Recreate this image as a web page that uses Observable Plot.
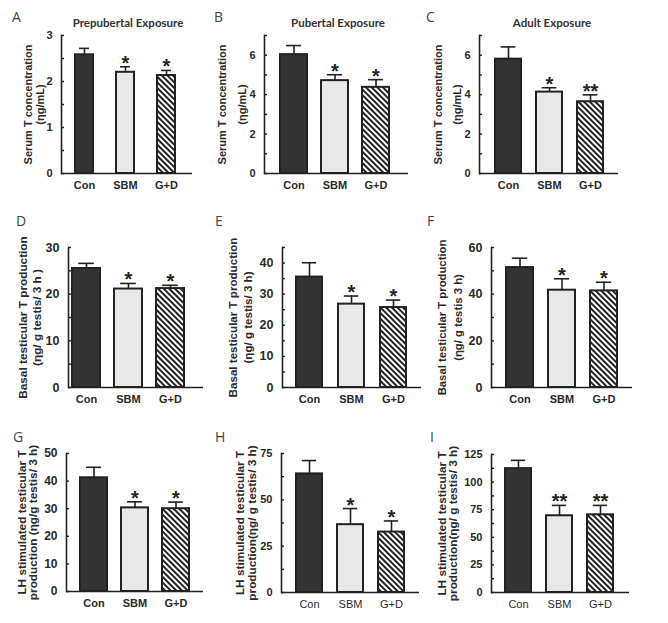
<!DOCTYPE html>
<html><head><meta charset="utf-8">
<script src="https://cdn.jsdelivr.net/npm/d3@7"></script>
<script src="https://cdn.jsdelivr.net/npm/@observablehq/plot@0.6"></script>
<style>
body{margin:0;background:#fff;}
#fig{position:relative;width:668px;height:623px;overflow:hidden;background:#fff;}
#fig svg.panel{position:absolute;}
#overlay{position:absolute;left:0;top:0;pointer-events:none;}
</style></head><body>
<svg width="0" height="0" style="position:absolute">
<defs>
<pattern id="dots" patternUnits="userSpaceOnUse" width="2" height="2"><rect width="2" height="2" fill="#fff"/><rect x="0.5" y="0.5" width="1" height="1" fill="#a4a4a4"/></pattern>
<pattern id="hatch" patternUnits="userSpaceOnUse" width="4" height="4" patternTransform="rotate(-45)"><rect width="4" height="4" fill="#fff"/><rect width="2" height="4" fill="#222"/></pattern>
</defs></svg>
<div id="fig"></div>
<script>
// ---- data ----
const groups = ["Con", "SBM", "G+D"];

const meansA = [2.58, 2.20, 2.13];
const errsA  = [0.14, 0.12, 0.11];
const sigA   = ["", "*", "*"];
const ticksA = [0, 1, 2, 3];
const minorA = [0.5, 1.5, 2.5];

const meansB = [6.03, 4.71, 4.37];
const errsB  = [0.46, 0.30, 0.39];
const sigB   = ["", "*", "*"];
const ticksB = [0, 2, 4, 6];
const minorB = [1, 3, 5, 7];

const meansC = [5.80, 4.13, 3.64];
const errsC  = [0.62, 0.22, 0.35];
const sigC   = ["", "*", "**"];
const ticksC = [0, 2, 4, 6];
const minorC = [1, 3, 5, 7];

const meansD = [25.5, 21.1, 21.2];
const errsD  = [1.1, 1.2, 0.7];
const sigD   = ["", "*", "*"];
const ticksD = [0, 10, 20, 30];
const minorD = [5, 15, 25];

const meansE = [35.5, 26.8, 25.7];
const errsE  = [4.6, 2.6, 2.4];
const sigE   = ["", "*", "*"];
const ticksE = [0, 10, 20, 30, 40];
const minorE = [5, 15, 25, 35, 45];

const meansF = [51.4, 41.7, 41.4];
const errsF  = [4.0, 4.9, 3.7];
const sigF   = ["", "*", "*"];
const ticksF = [0, 20, 40, 60];
const minorF = [10, 30, 50];

const meansG = [41.2, 30.3, 30.0];
const errsG  = [3.8, 2.2, 2.4];
const sigG   = ["", "*", "*"];
const ticksG = [0, 10, 20, 30, 40, 50];
const minorG = [];

const meansH = [64.0, 36.6, 32.6];
const errsH  = [7.2, 8.7, 6.0];
const sigH   = ["", "*", "*"];
const ticksH = [0, 25, 50, 75];
const minorH = [12.5, 37.5, 62.5];

const meansI = [112.2, 69.5, 70.4];
const errsI  = [7.5, 9.4, 8.5];
const sigI   = ["", "**", "**"];
const ticksI = [0, 25, 50, 75, 100, 125];
const minorI = [12.5, 37.5, 62.5, 87.5, 112.5];

const titles = ["Prepubertal Exposure", "Pubertal Exposure", "Adult Exposure"];
const labelSerum = ["Serum T concentration", "(\u03b7g/mL)"];
const labelD = ["Basal testicular T production", "(\u03b7g/ g testis/ 3 h )"];
const labelE = ["Basal testicular T production", "(\u03b7g/ g testis/ 3 h)"];
const labelF = ["Basal testicular T production", "(\u03b7g/ g testis 3 h)"];
const labelG = ["LH stimulated testicular T", "production (\u03b7g/g testis/ 3 h)"];
const labelH = ["LH stimulated testicular T", "production(\u03b7g/ g testis/ 3 h)"];
const labelI = ["LH stimulated testicular T", "production(\u03b7g/ g testis/ 3 h)"];

const panels = [
  {id:"A", means:meansA, errs:errsA, sig:sigA, yMax:3,   ticks:ticksA, minor:minorA, label:labelSerum},
  {id:"B", means:meansB, errs:errsB, sig:sigB, yMax:7,   ticks:ticksB, minor:minorB, label:labelSerum},
  {id:"C", means:meansC, errs:errsC, sig:sigC, yMax:7,   ticks:ticksC, minor:minorC, label:labelSerum},
  {id:"D", means:meansD, errs:errsD, sig:sigD, yMax:30,  ticks:ticksD, minor:minorD, label:labelD},
  {id:"E", means:meansE, errs:errsE, sig:sigE, yMax:45,  ticks:ticksE, minor:minorE, label:labelE},
  {id:"F", means:meansF, errs:errsF, sig:sigF, yMax:60,  ticks:ticksF, minor:minorF, label:labelF},
  {id:"G", means:meansG, errs:errsG, sig:sigG, yMax:50,  ticks:ticksG, minor:minorG, label:labelG},
  {id:"H", means:meansH, errs:errsH, sig:sigH, yMax:75,  ticks:ticksH, minor:minorH, label:labelH},
  {id:"I", means:meansI, errs:errsI, sig:sigI, yMax:125, ticks:ticksI, minor:minorI, label:labelI}
];

// ---- layout / style ----
const colX = [0, 215, 430], colW = [215, 215, 238];
const rowTop = [0, 200, 410], rowH = [200, 210, 213];
const groupFills = ["#333333", "url(#dots)", "url(#hatch)"];
const ink = "#222";
const layout = {
  A:{col:0,row:0,axis:61, end:192,top:35, bottom:173,l1:28, l2:40, pi:0.557,po:0.317,ir:2.5,tickFs:11,  labelFs:11, xw:"bold"},
  B:{col:1,row:0,axis:264,end:408,top:35, bottom:173,l1:222,l2:242,pi:0.35, po:0.361,ir:4,  tickFs:11,  labelFs:11, xw:"bold"},
  C:{col:2,row:0,axis:479,end:618,top:35, bottom:173,l1:438,l2:457,pi:0.377,po:0.379,ir:0,  tickFs:11,  labelFs:11, xw:"bold"},
  D:{col:0,row:1,axis:68, end:203,top:247,bottom:387,l1:23, l2:37, pi:0.337,po:0.083,ir:15, tickFs:12.5,labelFs:11.8,xw:"bold"},
  E:{col:1,row:1,axis:282,end:421,top:247,bottom:387,l1:233,l2:248,pi:0.37, po:0.339,ir:0,  tickFs:12.5,labelFs:11.6,xw:"bold"},
  F:{col:2,row:1,axis:491,end:632,top:247,bottom:387,l1:442,l2:458,pi:0.369,po:0.358,ir:0,  tickFs:12.5,labelFs:11.3,xw:"bold"},
  G:{col:0,row:2,axis:66, end:203,top:453,bottom:591,l1:22, l2:33, pi:0.332,po:0.322,ir:0,  tickFs:12,  labelFs:11.8,xw:"bold"},
  H:{col:1,row:2,axis:281,end:419,top:453,bottom:592,l1:240,l2:252,pi:0.354,po:0.35, ir:0,  tickFs:11,  labelFs:11.8,xw:"normal"},
  I:{col:2,row:2,axis:491,end:629,top:454,bottom:592,l1:442,l2:453,pi:0.357,po:0.339,ir:0.7,tickFs:11,  labelFs:11.8,xw:"normal"}
};

const fig = document.getElementById("fig");

panels.forEach(p => {
  const L = layout[p.id];
  const left = colX[L.col], top = rowTop[L.row], w = colW[L.col], h = rowH[L.row];
  const data = groups.map((g, i) => ({group: g, mean: p.means[i], top: p.means[i] + p.errs[i], sig: p.sig[i]}));
  const plotW = L.end - L.axis;
  const step = (plotW - L.ir) / (3 - L.pi + 2 * L.po);
  const bw = step * (1 - L.pi);
  const capInset = bw * 0.22;
  const chart = Plot.plot({
    width: w, height: h,
    marginLeft: L.axis - left, marginRight: left + w - L.end,
    marginTop: L.top - top, marginBottom: top + h - L.bottom,
    style: {background: "none", overflow: "visible", fontFamily: "'Liberation Sans', Arial, sans-serif", color: "#2a2a2a"},
    x: {domain: groups, paddingInner: L.pi, paddingOuter: L.po, insetRight: L.ir, label: null},
    y: {domain: [0, p.yMax], label: null},
    marks: [
      ...groups.map((g, i) => Plot.barY(data.filter(d => d.group === g), {x: "group", y: "mean", fill: groupFills[i], stroke: ink, strokeWidth: 2})),
      Plot.ruleX(data, {x: "group", y1: "mean", y2: "top", stroke: ink, strokeWidth: 1.6}),
      Plot.tickY(data, {x: "group", y: "top", insetLeft: capInset, insetRight: capInset, stroke: ink, strokeWidth: 1.6}),
      Plot.text(data.filter(d => d.sig), {x: "group", y: "top", text: "sig", fontSize: 20, fontWeight: "bold", lineAnchor: "bottom", dy: 3, fill: ink}),
      Plot.axisY({ticks: p.minor, tickSize: -3, tickFormat: () => "", stroke: ink, strokeWidth: 1.4, label: null}),
      Plot.axisY({ticks: p.ticks, tickSize: -3, tickPadding: 12, fontSize: L.tickFs, fontWeight: "bold", stroke: ink, strokeWidth: 1.4, tickFormat: d => String(d), label: null}),
      Plot.axisX({tickSize: 0, tickPadding: 8, fontSize: 11, fontWeight: L.xw, label: null}),
      Plot.frame({anchor: "left", stroke: ink, strokeWidth: 1.6}),
      Plot.ruleY([0], {stroke: ink, strokeWidth: 1.6}),
      Plot.text([p.label[0]], {frameAnchor: "left", textAnchor: "middle", lineAnchor: "middle", text: d => d, rotate: -90, dx: L.l1 - L.axis, fontSize: L.labelFs, fontWeight: "bold"}),
      Plot.text([p.label[1]], {frameAnchor: "left", textAnchor: "middle", lineAnchor: "middle", text: d => d, rotate: -90, dx: L.l2 - L.axis, fontSize: L.labelFs, fontWeight: "bold"})
    ]
  });
  chart.classList.add("panel");
  chart.style.left = left + "px";
  chart.style.top = top + "px";
  fig.appendChild(chart);
});

// panel letters and titles
const letterPos = {A:[12,22], B:[214,22], C:[426,22], D:[16,226], E:[215,226], F:[427,226], G:[13,442], H:[215,442], I:[430,442]};
const titleX = [128, 338, 552];
const ns = "http://www.w3.org/2000/svg";
const ov = document.createElementNS(ns, "svg");
ov.setAttribute("id", "overlay");
ov.setAttribute("width", 668); ov.setAttribute("height", 623);
panels.forEach(p => {
  const t = document.createElementNS(ns, "text");
  t.setAttribute("x", letterPos[p.id][0]); t.setAttribute("y", letterPos[p.id][1]);
  t.setAttribute("font-family", "'Open Sans', sans-serif"); t.setAttribute("font-size", 14);
  t.setAttribute("fill", "#444");
  t.textContent = p.id;
  ov.appendChild(t);
});
titles.forEach((s, i) => {
  const t = document.createElementNS(ns, "text");
  t.setAttribute("x", titleX[i]); t.setAttribute("y", 27);
  t.setAttribute("text-anchor", "middle");
  t.setAttribute("font-family", "Lato, sans-serif"); t.setAttribute("font-weight", "bold"); t.setAttribute("font-size", 11.5);
  t.setAttribute("fill", "#333");
  t.textContent = s;
  ov.appendChild(t);
});
fig.appendChild(ov);
</script>
</body></html>
